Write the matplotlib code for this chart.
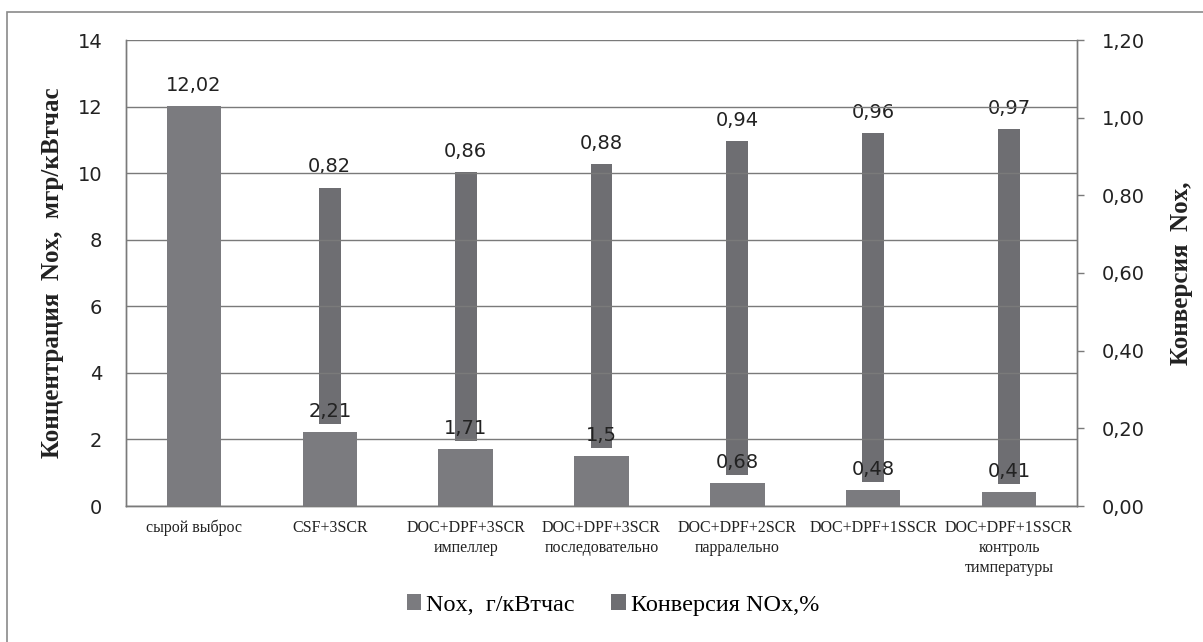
import matplotlib
matplotlib.use("Agg")
import matplotlib.pyplot as plt
from matplotlib.patches import Rectangle, Patch
import numpy as np

categories = ["сырой выброс", "CSF+3SCR", "DOC+DPF+3SCR\nимпеллер",
              "DOC+DPF+3SCR\nпоследовательно", "DOC+DPF+2SCR\nпарралельно",
              "DOC+DPF+1SSCR", "DOC+DPF+1SSCR\nконтроль\nтимпературы"]
nox = [12.02, 2.21, 1.71, 1.5, 0.68, 0.48, 0.41]
nox_labels = ["12,02", "2,21", "1,71", "1,5", "0,68", "0,48", "0,41"]
conv = [0.00, 0.82, 0.86, 0.88, 0.94, 0.96, 0.97]
conv_labels = ["0,00", "0,82", "0,86", "0,88", "0,94", "0,96", "0,97"]
left_ticks = [0, 2, 4, 6, 8, 10, 12, 14]
right_ticks = [0.0, 0.2, 0.4, 0.6, 0.8, 1.0, 1.2]
right_tick_labels = ["0,00", "0,20", "0,40", "0,60", "0,80", "1,00", "1,20"]

W, H = 1203, 642
fig = plt.figure(figsize=(W / 100, H / 100), dpi=100)
fig.patch.set_facecolor("white")

# outer frame
fig.add_artist(Rectangle((7 / W, -0.05), 1.1, 1 - 12 / H + 0.05, transform=fig.transFigure,
                         fill=False, edgecolor="#8a8a8a", linewidth=1.2))

left, right, top, bottom = 126, 1077, 40, 506
ax = fig.add_axes([left / W, 1 - bottom / H, (right - left) / W, (bottom - top) / H])
ax2 = ax.twinx()

wide_c = "#7b7b7f"
narrow_c = "#6e6e72"
text_c = "#222222"
x = np.arange(len(categories))

ax.set_xlim(-0.5, len(categories) - 0.5)
ax.set_ylim(0, 14)
ax2.set_ylim(0, 1.2)

ax2.set_zorder(1)
ax.set_zorder(2)
ax.patch.set_visible(False)

ax2.bar(x, conv, width=0.16, color=narrow_c, zorder=2)
ax.bar(x, nox, width=0.40, color=wide_c, zorder=3)
# soft white glow above wide bars
ax.bar(x, [0.25] * len(x), bottom=nox, width=0.40, color="white", zorder=3)

ax.set_yticks(left_ticks)
ax.set_yticklabels([str(t) for t in left_ticks], fontsize=14, color=text_c)
ax.tick_params(axis="y", length=0, pad=17)
ax.yaxis.grid(True, color="#7a7a7a", linewidth=1.0, zorder=0)
ax.set_axisbelow(True)
ax2.set_yticks(right_ticks)
ax2.set_yticklabels(right_tick_labels, fontsize=14, color=text_c)
ax2.tick_params(axis="y", length=5, width=1, color="#7a7a7a", pad=13)

ax.set_xticks(x)
ax.set_xticklabels(categories, fontsize=11.5, family="Liberation Serif", color=text_c,
                   linespacing=1.35)
ax.tick_params(axis="x", length=0, pad=10)

for a in (ax, ax2):
    for s in a.spines.values():
        s.set_color("#7a7a7a")
        s.set_linewidth(1.0)
    a.spines["top"].set_visible(False)
ax.spines["bottom"].set_zorder(5)

for xi, v, lab in zip(x, nox, nox_labels):
    ax.annotate(lab, (xi, v), xytext=(0, 8), textcoords="offset points",
                ha="center", va="bottom", fontsize=14, color=text_c, zorder=6)
for xi, v, lab in zip(x, conv, conv_labels):
    ax2.annotate(lab, (xi, v), xytext=(0, 8), textcoords="offset points",
                 ha="center", va="bottom", fontsize=14, color=text_c, zorder=6)

ax.set_ylabel("Концентрация  Nox,  мгр/кВтчас", family="Liberation Serif",
              fontweight="bold", fontsize=18, color=text_c, labelpad=10)
ax2.set_ylabel("Конверсия  Nox,", family="Liberation Serif", fontweight="bold",
               fontsize=18, color=text_c, rotation=90, labelpad=18)

handles = [Patch(facecolor=wide_c, label="Nox,  г/кВтчас"),
           Patch(facecolor=narrow_c, label="Конверсия NOx,%")]
fig.legend(handles=handles, loc="center", bbox_to_anchor=(613 / W, 1 - 605 / H), ncol=2,
           frameon=False, prop={"family": "Liberation Serif", "size": 17.5},
           handlelength=0.6, handleheight=0.6, handletextpad=0.2, columnspacing=1.5)

fig.savefig("out.png", dpi=100, facecolor="white")
